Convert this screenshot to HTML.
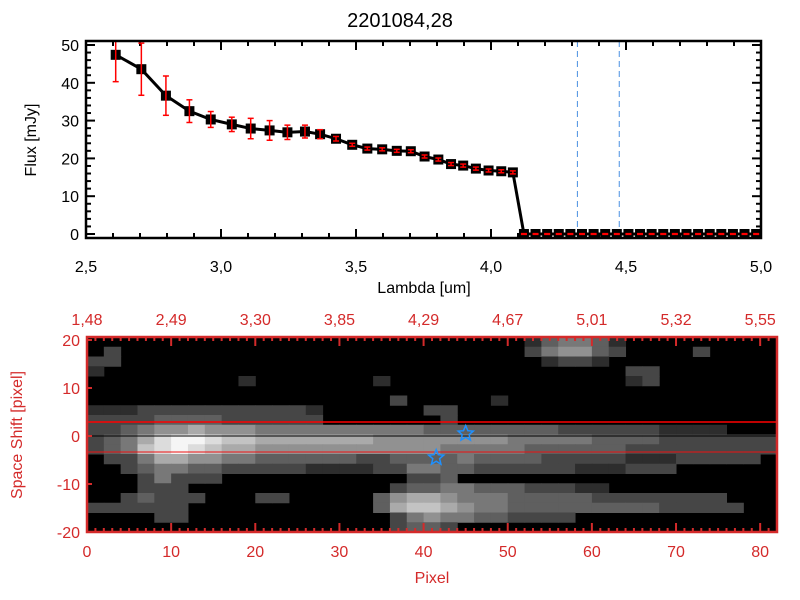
<!DOCTYPE html>
<html><head><meta charset="utf-8"><style>
html,body{margin:0;padding:0;background:#fff;}
svg{display:block;font-family:"Liberation Sans",sans-serif;}
</style></head><body>
<svg id="c" width="800" height="600" xmlns="http://www.w3.org/2000/svg">
<defs><clipPath id="tclip"><rect x="86" y="41" width="675" height="196"/></clipPath></defs>
<rect width="800" height="600" fill="#fff"/>
<g id="top"></g>
<g id="bot"></g>
</svg>
<script>
const lambdaVals=[2.610,2.705,2.796,2.883,2.962,3.040,3.110,3.180,3.246,3.311,3.367,3.426,3.486,3.542,3.597,3.651,3.703,3.754,3.805,3.852,3.897,3.944,3.991,4.038,4.081,4.122,4.165,4.208,4.251,4.294,4.337,4.380,4.423,4.466,4.509,4.552,4.595,4.638,4.681,4.724,4.767,4.810,4.853,4.896,4.939,4.982];
const fluxVals=[47.4,43.6,36.6,32.5,30.3,29.0,27.9,27.4,26.9,27.1,26.4,25.2,23.6,22.6,22.4,22.0,21.9,20.5,19.7,18.5,18.1,17.3,16.8,16.6,16.3,0,0,0,0,0,0,0,0,0,0,0,0,0,0,0,0,0,0,0,0,0];
const fluxErr=[7.1,6.9,5.2,3.0,2.1,1.9,2.7,2.6,1.9,1.7,1.2,0.6,0.4,0.4,0.4,0.4,0.4,0.4,0.4,0.4,0.4,0.4,0.4,0.4,0.4,0.1,0.1,0.1,0.1,0.1,0.1,0.1,0.1,0.1,0.1,0.1,0.1,0.1,0.1,0.1,0.1,0.1,0.1,0.1,0.1,0.1];
const xTicksTop=["2,5","3,0","3,5","4,0","4,5","5,0"];
const yTicksTop=["0","10","20","30","40","50"];
const dashedLambda=[4.32,4.475];
const topAxisLabels=["1,48","2,49","3,30","3,85","4,29","4,67","5,01","5,32","5,55"];
const pixelTicks=["0","10","20","30","40","50","60","70","80"];
const shiftTicks=["-20","-10","0","10","20"];
const heatRows=[
"00000000000000000000000000134431",
"02000000000000000000000000245532000020",
"22000000000000000000000000012210",
"10000000000000000000000000000000220",
"00000000010000000100000000000000120",
"0",
"000000000000000000200000100",
"111222222222210000002200",
"222233332222220000000200",
"22345565554444444444333333332222221111",
"23468998776666666555555554444433332222222",
"23478987665555555555544444333333222222222",
"02246655443333332233334333322222111222220",
"0023443322222111122443322222211122200",
"000242220000000000022300",
"0002220000000000002334433322211",
"0023222000220000035665444333332222222200",
"22222200000000000367765443333333332222200",
"000022000000000000245443322220",
"0000000000000000002332"];
const starPix=[[45,0.5],[41.5,-4.5]];

const NS="http://www.w3.org/2000/svg";
function mk(p,t,a,txt){const e=document.createElementNS(NS,t);for(const k in a)e.setAttribute(k,a[k]);if(txt!==undefined)e.textContent=txt;p.appendChild(e);return e;}
const T=document.getElementById('top');
const L=86,R=761,TT=41,TB=238;
const xs=l=>L+(l-2.5)/2.5*(R-L);
const ys=f=>234-f*3.78;
let e=mk(T,'text',{x:400,y:27,'font-size':20,'text-anchor':'middle'},'2201084,28');

dashedLambda.forEach((d,i)=>{const l=mk(T,'line',{x1:xs(d),x2:xs(d),y1:TT,y2:TB,stroke:'#4a90e2','stroke-dasharray':'6,4','stroke-width':1});

});
for(let i=0;i<=25;i++){const v=2.5+i*0.1;const x=xs(v);const len=(i%5==0)?9:5;
mk(T,'line',{x1:x,x2:x,y1:TB,y2:TB-len,stroke:'#000','stroke-width':2});
mk(T,'line',{x1:x,x2:x,y1:TT,y2:TT+len,stroke:'#000','stroke-width':2});}
xTicksTop.forEach((t,i)=>{const a=mk(T,'text',{x:xs(2.5+i*0.5),y:272,'font-size':16,'text-anchor':'middle'},t);

});
for(let i=0;i<=25;i++){const y=ys(i*2);if(y<TT)break;const len=(i%5==0)?9:5;
mk(T,'line',{x1:L,x2:L+len,y1:y,y2:y,stroke:'#000','stroke-width':2});
mk(T,'line',{x1:R,x2:R-len,y1:y,y2:y,stroke:'#000','stroke-width':2});}
yTicksTop.forEach((t,i)=>{const a=mk(T,'text',{x:79,y:ys(i*10)+6,'font-size':16,'text-anchor':'end'},t);

});
e=mk(T,'text',{x:424,y:293,'font-size':16,'text-anchor':'middle'},'Lambda [um]');

e=mk(T,'text',{x:0,y:0,'font-size':16,'text-anchor':'middle',transform:'translate(36,140) rotate(-90)'},'Flux [mJy]');

const G=mk(T,'g',{'clip-path':'url(#tclip)'});
let pts=lambdaVals.map((l,i)=>xs(l)+','+ys(fluxVals[i])).join(' ');
e=mk(G,'polyline',{points:pts,fill:'none',stroke:'#000','stroke-width':3});

lambdaVals.forEach((l,i)=>{const x=xs(l),y=ys(fluxVals[i]);
const s=mk(G,'rect',{x:x-5,y:Math.max(y-5,TT),width:10,height:10,fill:'#000'});

});
lambdaVals.forEach((l,i)=>{const x=xs(l);
const y1=Math.max(TT-12,ys(fluxVals[i]+fluxErr[i])),y2=ys(fluxVals[i]-fluxErr[i]);
const g=mk(T,'g',{stroke:'#f00','stroke-width':1.5});


mk(g,'line',{x1:x,x2:x,y1:y1,y2:y2});mk(g,'line',{x1:x-3,x2:x+3,y1:y1,y2:y1});mk(g,'line',{x1:x-3,x2:x+3,y1:y2,y2:y2});});
mk(T,'rect',{x:0,y:0,width:800,height:TT-1,fill:'#fff'});
e=mk(T,'text',{x:400,y:27,'font-size':20,'text-anchor':'middle'},'2201084,28');

mk(T,'rect',{x:L,y:TT,width:R-L,height:TB-TT,fill:'none',stroke:'#000','stroke-width':2.5});

const B=document.getElementById('bot');
const BL=87,BR=777,BT=337,BB=532;
const px=p=>BL+p*(BR-BL)/82;
const sy=s=>436-s*4.8;
mk(B,'rect',{x:BL,y:BT,width:BR-BL,height:BB-BT,fill:'#000'});
const cw=(BR-BL)/41,ch=(BB-BT)/20;
heatRows.forEach((row,r)=>{for(let c=0;c<41;c++){const v=+(row[c]||0);if(!v)continue;const g=Math.round(20+v*25);
const cell=mk(B,'rect',{x:BL+c*cw,y:BT+r*ch,width:cw+0.5,height:ch+0.5,fill:`rgb(${g},${g},${g})`});

}});
mk(B,'line',{x1:BL,x2:BR,y1:422,y2:422,stroke:'#f00','stroke-width':1.5});
mk(B,'line',{x1:BL,x2:BR,y1:436,y2:436,stroke:'#000','stroke-width':1});
mk(B,'line',{x1:BL,x2:BR,y1:452,y2:452,stroke:'#e11','stroke-width':1});
function star(cx,cy,r){let p=[];for(let k=0;k<10;k++){const a=-Math.PI/2+k*Math.PI/5;const rr=k%2?r*0.45:r;p.push((cx+rr*Math.cos(a)).toFixed(1)+','+(cy+rr*Math.sin(a)).toFixed(1));}return p.join(' ');}
starPix.forEach(s=>{const st=mk(B,'polygon',{points:star(px(s[0]),sy(s[1]),8),fill:'none',stroke:'#1e90ff','stroke-width':1.5});

});
const red='#d42a2a';
for(let i=0;i<=82;i++){const x=px(i);const len=(i%10==0)?9:4;
mk(B,'line',{x1:x,x2:x,y1:BB,y2:BB-len,stroke:red,'stroke-width':2});
mk(B,'line',{x1:x,x2:x,y1:BT,y2:BT+len,stroke:red,'stroke-width':2});}
for(let i=-20;i<=20;i+=10){const y=sy(i);
mk(B,'line',{x1:BL,x2:BL+5,y1:y,y2:y,stroke:red,'stroke-width':2});}
pixelTicks.forEach((t,i)=>{const x=px(i*10);
const a=mk(B,'text',{x:x,y:557,'font-size':16,fill:red,'text-anchor':'middle'},t);


const b=mk(B,'text',{x:x,y:325,'font-size':16,fill:red,'text-anchor':'middle'},topAxisLabels[i]);

});
shiftTicks.forEach(t=>{const a=mk(B,'text',{x:80,y:sy(+t)+6,'font-size':16,fill:red,'text-anchor':'end'},t);

});
e=mk(B,'text',{x:432,y:583,'font-size':16,fill:red,'text-anchor':'middle'},'Pixel');

e=mk(B,'text',{x:0,y:0,'font-size':16,fill:red,'text-anchor':'middle',transform:'translate(22,435) rotate(-90)'},'Space Shift [pixel]');

mk(B,'rect',{x:BL,y:BT,width:BR-BL,height:BB-BT,fill:'none',stroke:red,'stroke-width':2.5});
</script>
</body></html>
